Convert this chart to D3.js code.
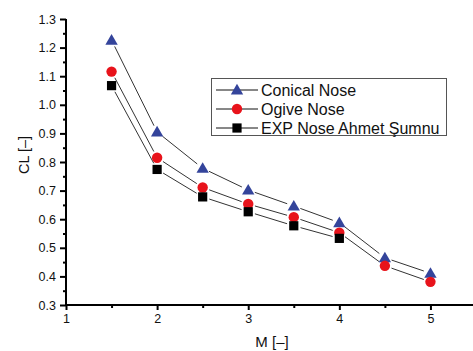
<!DOCTYPE html>
<html><head><meta charset="utf-8">
<script src="https://cdn.jsdelivr.net/npm/d3@7"></script>
<style>body{margin:0;background:#fff}svg{display:block}text{font-family:"Liberation Sans",Arial,sans-serif;fill:#111}</style>
</head><body><svg id="c" width="473" height="351"></svg>
<script>
const machConical = [1.5, 2, 2.5, 3, 3.5, 4, 4.5, 5];
const clConical  = [1.226, 0.905, 0.778, 0.702, 0.646, 0.588, 0.465, 0.411];
const machOgive  = [1.5, 2, 2.5, 3, 3.5, 4, 4.5, 5];
const clOgive    = [1.116, 0.815, 0.711, 0.653, 0.607, 0.553, 0.437, 0.381];
const machExp    = [1.5, 2, 2.5, 3, 3.5, 4];
const clExp      = [1.067, 0.774, 0.678, 0.626, 0.577, 0.533];
const seriesNames = ["Conical Nose", "Ogive Nose", "EXP Nose Ahmet Şumnu"];
const xTicks = [1, 2, 3, 4, 5];
const yTicks = [0.3, 0.4, 0.5, 0.6, 0.7, 0.8, 0.9, 1.0, 1.1, 1.2, 1.3];

const svg = d3.select("#c");
const x = d3.scaleLinear().domain([1, 5.5]).range([66, 476]);
const y = d3.scaleLinear().domain([0.3, 1.3]).range([305, 19]);

const series = [
  {name: seriesNames[0], xs: machConical, ys: clConical, color: "#34449b", shape: "tri"},
  {name: seriesNames[1], xs: machOgive, ys: clOgive, color: "#e8131b", shape: "circ"},
  {name: seriesNames[2], xs: machExp, ys: clExp, color: "#000000", shape: "sq"}
];

function marker(g, shape, cx, cy, color) {
  if (shape === "tri") {
    g.append("path").attr("d", d3.symbol().type(d3.symbolTriangle).size(66)())
      .attr("transform", `translate(${cx},${cy + 1})`).attr("fill", color);
  } else if (shape === "circ") {
    g.append("circle").attr("cx", cx).attr("cy", cy).attr("r", 5.2).attr("fill", color);
  } else {
    g.append("rect").attr("x", cx - 4.6).attr("y", cy - 4.6).attr("width", 9.2).attr("height", 9.2).attr("fill", color);
  }
}

// lines with gaps
const gap = 7;
series.forEach(s => {
  const pts = s.xs.map((v, i) => [x(v), y(s.ys[i])]);
  for (let i = 0; i < pts.length - 1; i++) {
    const [x0, y0] = pts[i], [x1, y1] = pts[i + 1];
    const dx = x1 - x0, dy = y1 - y0, L = Math.hypot(dx, dy);
    const ux = dx / L, uy = dy / L;
    svg.append("line")
      .attr("x1", x0 + ux * gap).attr("y1", y0 + uy * gap)
      .attr("x2", x1 - ux * gap).attr("y2", y1 - uy * gap)
      .attr("stroke", "#333").attr("stroke-width", 1);
  }
});
series.forEach(s => {
  const g = svg.append("g");
  s.xs.forEach((v, i) => marker(g, s.shape, x(v), y(s.ys[i]), s.color));
});

// axes
const xAxis = svg.append("g").attr("transform", "translate(0,305)")
  .call(d3.axisBottom(x).tickValues(xTicks).tickFormat(d3.format("d")).tickSize(5).tickPadding(4));
svg.append("g").attr("transform", "translate(0,305)")
  .call(d3.axisBottom(x).tickValues([1.5, 2.5, 3.5, 4.5]).tickFormat("").tickSize(3))
  .select(".domain").remove();
const yAxis = svg.append("g").attr("transform", "translate(66,0)")
  .call(d3.axisLeft(y).tickValues(yTicks).tickFormat(d3.format(".1f")).tickSize(6).tickPadding(4));
svg.append("g").attr("transform", "translate(66,0)")
  .call(d3.axisLeft(y).tickValues(d3.range(0.35, 1.3, 0.1)).tickFormat("").tickSize(3))
  .select(".domain").remove();
svg.selectAll(".domain").attr("stroke", "#000").attr("stroke-width", 2);
svg.selectAll(".tick line").attr("stroke", "#000").attr("stroke-width", 2);
svg.selectAll(".tick text").style("font-family", '"Liberation Sans",Arial,sans-serif').style("font-size", "12.5px").attr("fill", "#111");
yAxis.select(".domain").attr("d", "M0,305V19");
xAxis.select(".domain").attr("d", "M66,0H476");

// titles
svg.append("text").attr("x", 272).attr("y", 347).attr("text-anchor", "middle").style("font-size", "15px").text("M [–]");
svg.append("text").attr("transform", "translate(29,155) rotate(-90)").attr("text-anchor", "middle").style("font-size", "14.5px").text("CL [–]");

// legend
const lg = svg.append("g");
lg.append("rect").attr("x", 211.5).attr("y", 78.5).attr("width", 235).attr("height", 57)
  .attr("fill", "#fff").attr("stroke", "#555").attr("stroke-width", 1);
const rowsY = [90, 109, 128];
series.forEach((s, i) => {
  const cy = rowsY[i];
  lg.append("line").attr("x1", 216).attr("x2", 258).attr("y1", cy).attr("y2", cy).attr("stroke", "#111").attr("stroke-width", 1);
  marker(lg, s.shape, 237, cy, s.color);
  lg.append("text").attr("x", 261).attr("y", cy + 6).style("font-size", "16px").text(s.name);
});
</script></body></html>
